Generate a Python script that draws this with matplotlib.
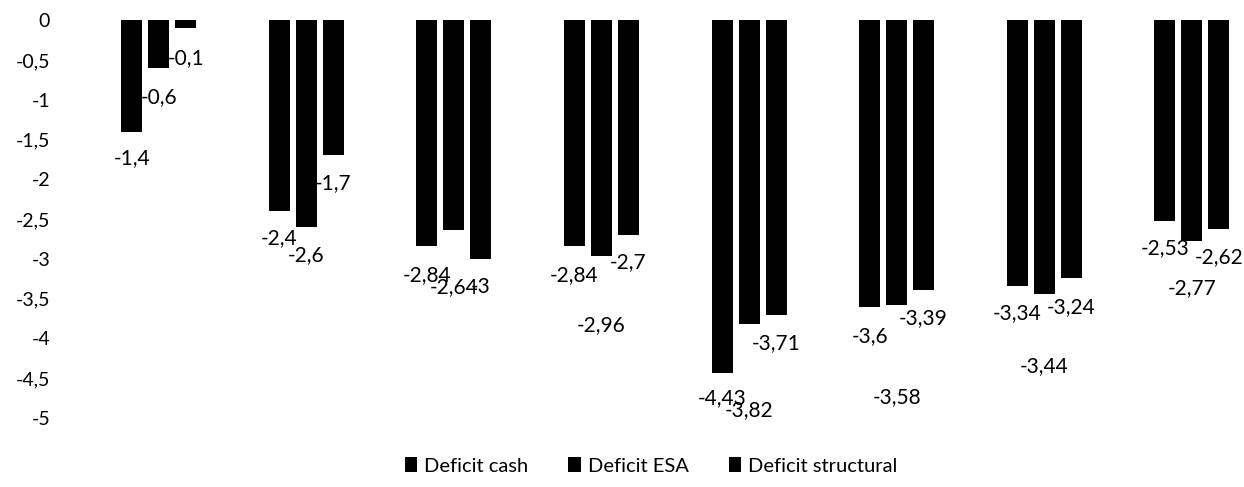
import matplotlib
matplotlib.use("Agg")
import matplotlib.pyplot as plt
import numpy as np
from matplotlib.ticker import FuncFormatter

plt.rcParams['font.family'] = ['Lato', 'DejaVu Sans']

# values (8 groups, category labels hidden behind bars)
deficit_cash = [-1.4, -2.4, -2.84, -2.84, -4.43, -3.6, -3.34, -2.53]
deficit_esa = [-0.6, -2.6, -2.64, -2.96, -3.82, -3.58, -3.44, -2.77]
deficit_structural = [-0.1, -1.7, -3.0, -2.7, -3.71, -3.39, -3.24, -2.62]
series_names = ["Deficit cash", "Deficit ESA", "Deficit structural"]

# label drop below bar end, in pixels (ESA labels were pushed down in the original)
cash_drop = [-27, -27, -29, -29, -25, -30, -27, -27]
esa_drop = [-29, -28, -57, -69, -86, -92, -72, -48]
struct_drop = [-30, -28, -28, -27, -28, -28, -29, -28]

fig = plt.figure(figsize=(12.44, 4.87), dpi=100)
ax = fig.add_axes([0.0683, 0.1417, 0.949, 0.817])

x = np.arange(len(deficit_cash))
width = 0.142
step = 0.183

series = [deficit_cash, deficit_esa, deficit_structural]
drops = [cash_drop, esa_drop, struct_drop]
handles = []
for i, (vals, name, drop) in enumerate(zip(series, series_names, drops)):
    xs = x + (i - 1) * step
    b = ax.bar(xs, vals, width, color="black", label=name)
    handles.append(b)
    for xi, v, d in zip(xs, vals, drop):
        ax.annotate(f"{v:g}".replace(".", ","), xy=(xi, v), xytext=(0, d),
                    textcoords="offset pixels", ha="center", va="center",
                    fontsize=15, color="black")

ax.set_xlim(-0.5, len(x) - 0.5)
ax.set_ylim(-5, 0)
ax.set_yticks(np.arange(0, -5.01, -0.5))
ax.yaxis.set_major_formatter(FuncFormatter(lambda v, p: f"{v:g}".replace(".", ",")))
ax.tick_params(axis="y", length=0, pad=25, labelsize=14)
ax.set_xticks([])
for s in ax.spines.values():
    s.set_visible(False)

fig.legend(handles=handles, labels=series_names, loc="center",
           bbox_to_anchor=(651 / 1244, 1 - 466 / 487), ncol=3, frameon=False,
           fontsize=14.5, handlelength=0.6, handleheight=0.7, handletextpad=0.35,
           columnspacing=2.0)

fig.savefig("out.png", dpi=100)
